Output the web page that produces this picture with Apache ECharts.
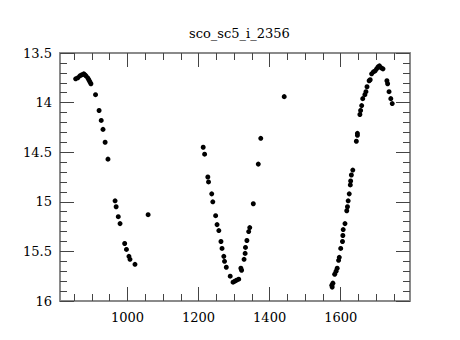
<!DOCTYPE html>
<html><head><meta charset="utf-8">
<script src="https://cdn.jsdelivr.net/npm/echarts@6/dist/echarts.min.js"></script>
<style>html,body{margin:0;padding:0;background:#fff}#c{width:460px;height:340px}</style>
</head><body><div id="c"></div>
<script>
const title = 'sco_sc5_i_2356';
const jd = [854,860,866,871,877,880,883,888,891,894,897,910,920,926,931,937,945,965,968,974,979,992,997,1004,1007,1021,1058,
  1213,1217,1226,1228,1237,1240,1248,1252,1257,1263,1266,1271,1273,1278,1289,1297,1302,1307,1313,1319,1321,1328,1331,1332,1336,1341,1344,1354,1368,1375,1441,
  1575,1576,1578,1583,1587,1590,1594,1596,1600,1605,1606,1607,1612,1617,1619,1621,1624,1627,1628,1630,1634,1644,1647,1647,1654,1656,1659,1662,1668,1671,1674,1680,1683,1687,1692,1697,1701,1705,1709,1714,1719,1730,1732,1736,1741,1745];
const mag = [13.76,13.75,13.73,13.72,13.71,13.72,13.73,13.75,13.77,13.79,13.81,13.92,14.08,14.18,14.27,14.40,14.57,14.99,15.05,15.15,15.22,15.42,15.48,15.55,15.58,15.63,15.13,
  14.45,14.52,14.75,14.80,14.92,15.00,15.14,15.23,15.29,15.40,15.47,15.55,15.60,15.66,15.75,15.81,15.80,15.79,15.78,15.67,15.69,15.58,15.52,15.46,15.39,15.30,15.26,15.02,14.62,14.36,13.94,
  15.84,15.86,15.82,15.73,15.70,15.67,15.59,15.56,15.47,15.40,15.34,15.28,15.22,15.09,15.05,14.99,14.92,14.83,14.79,14.73,14.68,14.39,14.33,14.31,14.12,14.08,14.03,13.96,13.92,13.89,13.84,13.78,13.77,13.71,13.69,13.68,13.66,13.64,13.63,13.65,13.66,13.78,13.81,13.89,13.96,14.01];
const xMajor = [1000,1200,1400,1600];
const xMinor = [850,900,950,1050,1100,1150,1250,1300,1350,1450,1500,1550,1650,1700,1750];
const xMin = 810, xMax = 1795;
const yMin = 13.5, yMax = 16, yStep = 0.5;

const font = 'DejaVu Serif';
const axisGray = '#8a8a8a';
const tickCol = '#444';
function xAx(pos, vals, len, labels, line) {
  return {
    type: 'value', position: pos, min: xMin, max: xMax,
    axisLine: {show: line, onZero: false, lineStyle: {color: axisGray, width: 2}},
    axisTick: {show: true, inside: true, length: len, customValues: vals, lineStyle: {color: tickCol, width: 1}},
    axisLabel: {show: labels, customValues: vals, margin: 10, color: '#000', fontFamily: font, fontSize: 13, formatter: v => String(v)},
    splitLine: {show: false}
  };
}
function yAx(pos, labels) {
  return {
    type: 'value', position: pos, min: yMin, max: yMax, interval: yStep, inverse: true,
    axisLine: {show: true, onZero: false, lineStyle: {color: axisGray, width: 2}},
    axisTick: {show: true, inside: true, length: 14, lineStyle: {color: tickCol, width: 1}},
    minorTick: {show: true, splitNumber: 5, length: 7, lineStyle: {color: tickCol, width: 1}},
    axisLabel: {show: labels, margin: 8, color: '#000', fontFamily: font, fontSize: 13},
    splitLine: {show: false}
  };
}
const chart = echarts.init(document.getElementById('c'), null, {renderer: 'svg'});
chart.setOption({
  animation: false,
  title: {text: title, left: 184, top: 22,
    textStyle: {fontFamily: font, fontSize: 13, fontWeight: 'normal', color: '#000'}},
  grid: {left: 60, right: 50, top: 53, bottom: 39},
  xAxis: [xAx('bottom', xMajor, 14, true, true), xAx('bottom', xMinor, 7, false, false),
          xAx('top', xMajor, 14, false, true), xAx('top', xMinor, 7, false, false)],
  yAxis: [yAx('left', true), yAx('right', false)],
  series: [{
    type: 'scatter', xAxisIndex: 0, yAxisIndex: 0,
    data: jd.map((x, i) => [x, mag[i]]),
    symbol: 'circle', symbolSize: 5, itemStyle: {color: '#000', opacity: 1}
  }]
});
</script></body></html>
